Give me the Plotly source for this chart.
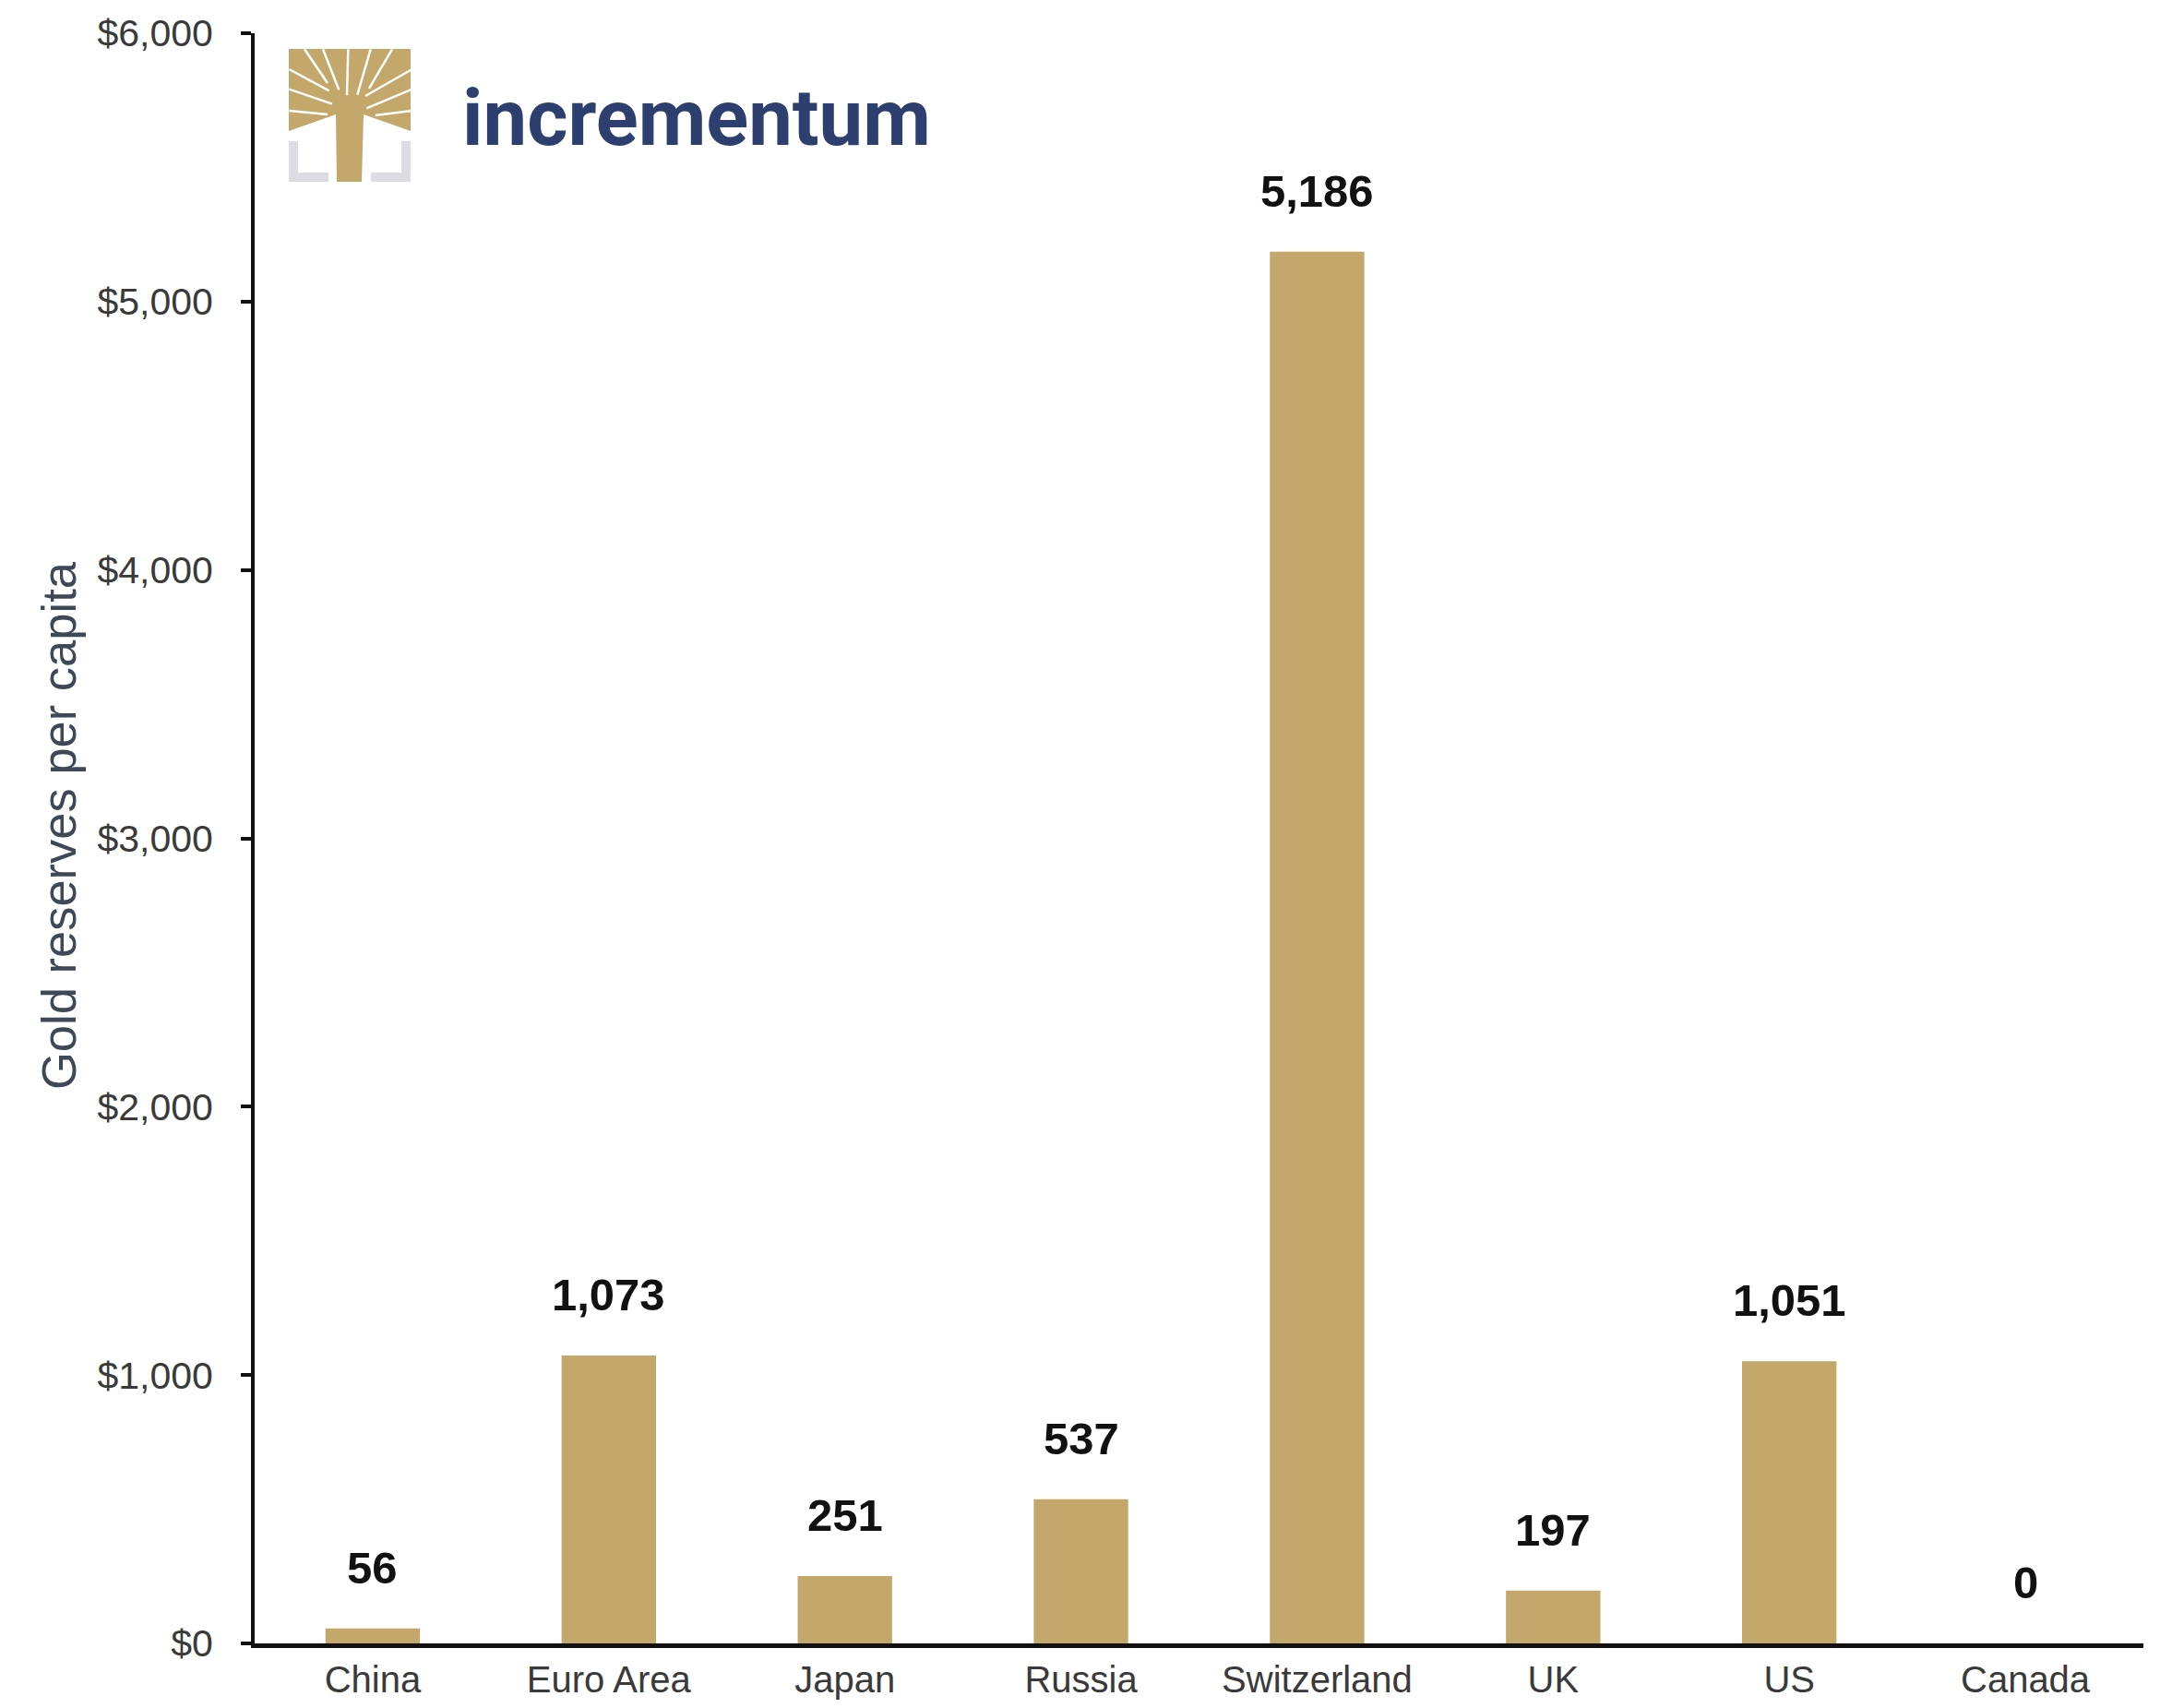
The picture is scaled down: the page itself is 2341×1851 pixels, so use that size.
import plotly.graph_objects as go

countries = ["China", "Euro Area", "Japan", "Russia", "Switzerland", "UK", "US", "Canada"]
reserves_per_capita = [56, 1073, 251, 537, 5186, 197, 1051, 0]
value_labels = ["56", "1,073", "251", "537", "5,186", "197", "1,051", "0"]
y_tick_values = [0, 1000, 2000, 3000, 4000, 5000, 6000]
y_tick_labels = ["$0", "$1,000", "$2,000", "$3,000", "$4,000", "$5,000", "$6,000"]

# page has an 8px body margin; compensate so the plot sits where the reference has it
OFF = 8
W, H = 2341 - 2 * OFF, 1851 - 2 * OFF
PL, PR, PT, PB = 276, 2323, 36, 1781          # plot area in page pixels
L, T = PL - OFF, PT - OFF
R = W - (PR - OFF)
B = H - (PB - OFF)
PW, PH = W - L - R, H - T - B

GOLD = "#C3A76B"
NAVY = "#2D3F6E"

def px(x):
    return (x - OFF - L) / PW

def py(y):
    return (H - B - (y - OFF)) / PH

fig = go.Figure()
fig.add_trace(go.Bar(
    x=countries, y=reserves_per_capita,
    marker=dict(color=GOLD, line=dict(width=0)),
    hoverinfo="skip",
))

annotations = []
for c, v, t in zip(countries, reserves_per_capita, value_labels):
    annotations.append(dict(
        x=c, y=v, xref="x", yref="y", text=t, showarrow=False,
        yanchor="middle", xanchor="center", yshift=66,
        font=dict(family="Liberation Sans, Arial", size=49, color="#111111", weight="bold"),
    ))

# y-axis title
annotations.append(dict(
    x=px(63), y=py(895), xref="paper", yref="paper",
    text="Gold reserves per capita", textangle=-90, showarrow=False,
    xanchor="center", yanchor="middle",
    font=dict(family="Liberation Sans, Arial", size=52.5, color="#3E4856"),
))

# logo text
annotations.append(dict(
    x=px(499), y=py(128), xref="paper", yref="paper",
    text="incrementum", showarrow=False, xanchor="left", yanchor="middle",
    font=dict(family="Roboto", size=85, color=NAVY, weight=700),
))

shapes = []
def pth(points, fill=None, line=None, lw=0, close=True):
    d = "M " + " L ".join(f"{px(x):.5f},{py(y):.5f}" for x, y in points)
    if close:
        d += " Z"
    s = dict(type="path", path=d, xref="paper", yref="paper", layer="above",
             line=dict(width=lw, color=line if line else "rgba(0,0,0,0)"))
    if fill:
        s["fillcolor"] = fill
    return s

GREY = "#DCDCE2"
# grey brackets
shapes.append(pth([(313, 153), (323, 153), (323, 187), (356, 187), (356, 197), (313, 197)], fill=GREY))
shapes.append(pth([(445, 153), (435, 153), (435, 187), (402, 187), (402, 197), (445, 197)], fill=GREY))
# tree silhouette
shapes.append(pth([(313, 53), (445, 53), (445, 142), (394, 124), (392, 197), (365, 197),
                   (364, 124), (313, 142)], fill=GOLD))
# white slits (zoom coords -> page)
def z(xz, yz):
    return (290 + xz / 3.0, 40 + yz / 3.0)

slits = [
    [(70, 105), (200, 175)],
    [(70, 170), (210, 218)],
    [(70, 240), (195, 252)],
    [(120, 40), (195, 150)],
    [(180, 40), (232, 172)],
    [(262, 40), (258, 190)],
    [(335, 40), (292, 188)],
    [(405, 40), (330, 168)],
    [(470, 105), (318, 192)],
    [(470, 170), (322, 232)],
    [(470, 240), (350, 255)],
]
for a, b in slits:
    shapes.append(pth([z(*a), z(*b)], line="white", lw=2.5, close=False))

fig.update_layout(
    width=W, height=H,
    margin=dict(l=L, r=R, t=T, b=B),
    plot_bgcolor="white", paper_bgcolor="white",
    bargap=0.6, showlegend=False,
    annotations=annotations, shapes=shapes,
    font=dict(family="Liberation Sans, Arial", color="#404040"),
)
fig.update_xaxes(
    automargin=False, showline=True, linewidth=5, linecolor="#111111",
    ticks="", showgrid=False, zeroline=False,
    tickfont=dict(size=40, color="#3A3A3A"), ticklabelstandoff=0,
    range=[-0.5, 7.5],
)
fig.update_yaxes(
    automargin=False, range=[0, 6000], showline=True, linewidth=4, linecolor="#111111",
    ticks="outside", ticklen=11, tickwidth=4, tickcolor="#111111",
    tickvals=y_tick_values, ticktext=y_tick_labels,
    tickfont=dict(size=41, color="#3A3A3A"), ticklabelstandoff=22,
    showgrid=False, zeroline=False,
)

fig.write_html("out.html")
